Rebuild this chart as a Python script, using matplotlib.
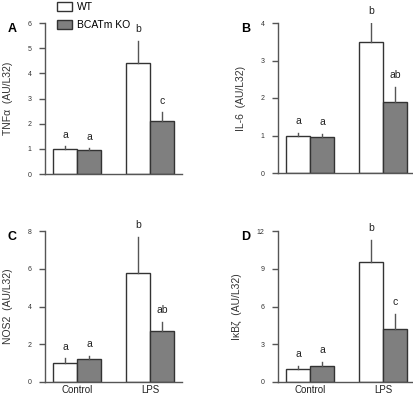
import numpy as np
import matplotlib
matplotlib.use('Agg')
import matplotlib.pyplot as plt
from matplotlib.patches import Patch

plt.rcParams['font.family'] = ['Liberation Sans', 'DejaVu Sans']

groups = ['Control', 'LPS']
series = ['WT', 'BCATm KO']

# values per panel: [Control, LPS] for WT and KO, plus upper error lengths
tnf_wt = [1.0, 4.4]
tnf_ko = [0.95, 2.1]
tnf_wt_err = [0.1, 0.9]
tnf_ko_err = [0.07, 0.35]
tnf_letters = [['a', 'b'], ['a', 'c']]

il6_wt = [1.0, 3.5]
il6_ko = [0.97, 1.9]
il6_wt_err = [0.08, 0.5]
il6_ko_err = [0.08, 0.4]
il6_letters = [['a', 'b'], ['a', 'ab']]

nos_wt = [1.0, 5.8]
nos_ko = [1.2, 2.7]
nos_wt_err = [0.25, 1.9]
nos_ko_err = [0.2, 0.5]
nos_letters = [['a', 'b'], ['a', 'ab']]

ikb_wt = [1.0, 9.5]
ikb_ko = [1.3, 4.2]
ikb_wt_err = [0.3, 1.8]
ikb_ko_err = [0.3, 1.2]
ikb_letters = [['a', 'b'], ['a', 'c']]

panels = [
    ('A', 'TNF\u03b1  (AU/L32)', tnf_wt, tnf_ko, tnf_wt_err, tnf_ko_err, tnf_letters, 6, 1),
    ('B', 'IL-6  (AU/L32)', il6_wt, il6_ko, il6_wt_err, il6_ko_err, il6_letters, 4, 1),
    ('C', 'NOS2  (AU/L32)', nos_wt, nos_ko, nos_wt_err, nos_ko_err, nos_letters, 8, 2),
    ('D', 'I\u03baB\u03b6  (AU/L32)', ikb_wt, ikb_ko, ikb_wt_err, ikb_ko_err, ikb_letters, 12, 3),
]

W, H = 414, 396
fig = plt.figure(figsize=(W / 100, H / 100), dpi=100)

# axes boxes in pixels: left, top, width, height
boxes = [(45, 23, 137, 151), (278, 23, 136, 150), (45, 231, 137, 151), (278, 231, 136, 151)]

ko_color = '#7f7f7f'
edge = '#333333'
axis_col = '#555555'
centers = np.array([1.35, 4.38])
bw = 1.0

for (letter, ylab, wt, ko, we, ke, lets, ymax, step), (l, t, w, h) in zip(panels, boxes):
    ax = fig.add_axes([l / W, 1 - (t + h) / H, w / W, h / H])
    ax.bar(centers - bw / 2, wt, bw, color='white', edgecolor=edge, linewidth=1)
    ax.bar(centers + bw / 2, ko, bw, color=ko_color, edgecolor=edge, linewidth=1)
    for i in range(2):
        for x, v, e, lt in [(centers[i] - bw / 2, wt[i], we[i], lets[0][i]),
                            (centers[i] + bw / 2, ko[i], ke[i], lets[1][i])]:
            ax.plot([x, x], [v, v + e], color=axis_col, lw=1)
            ax.text(x, v + e + ymax * 0.045, lt, ha='center', va='bottom',
                    fontsize=7.5, color='#222222')
    ax.set_xlim(0, w / 24)
    ax.set_ylim(0, ymax)
    ax.set_yticks(np.arange(0, ymax + 0.01, step))
    ax.tick_params(axis='y', labelsize=5, length=4.5, width=1, color=axis_col,
                   labelcolor='#333333', pad=5)
    if letter in ('C', 'D'):
        ax.set_xticks(centers)
        ax.set_xticklabels(groups, fontsize=7, color='#222222')
        ax.tick_params(axis='x', length=0, pad=2)
    else:
        ax.set_xticks([])
    for s in ('top', 'right'):
        ax.spines[s].set_visible(False)
    for s in ('left', 'bottom'):
        ax.spines[s].set_color(axis_col)
        ax.spines[s].set_linewidth(1)
    ax.patch.set_alpha(0)
    ax.set_ylabel(ylab, fontsize=7.5, color='#333333', labelpad=11)
    fig.text((l - 37) / W, 1 - (t + 6) / H, letter, fontsize=9, fontweight='bold',
             ha='left', va='center')

handles = [Patch(facecolor='white', edgecolor=edge, label=series[0]),
           Patch(facecolor=ko_color, edgecolor=edge, label=series[1])]
fig.legend(handles=handles, loc='upper left', bbox_to_anchor=(52 / W, 1.008),
           frameon=False, fontsize=7.5, handlelength=1.4, handleheight=1.0,
           labelspacing=0.7, handletextpad=0.5, borderaxespad=0.1)

fig.savefig('out.png', dpi=100)
